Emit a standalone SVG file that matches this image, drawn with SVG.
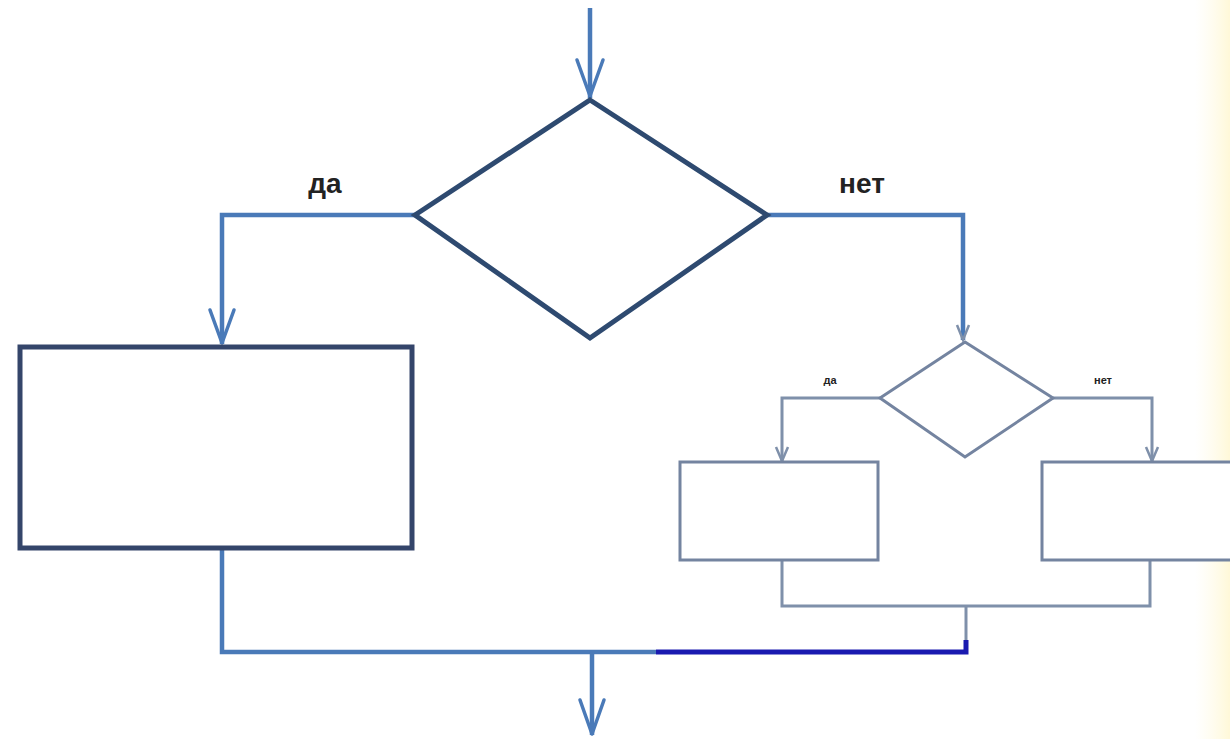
<svg xmlns="http://www.w3.org/2000/svg" width="1230" height="739" viewBox="0 0 1230 739">
<defs>
<linearGradient id="yel" x1="0" y1="0" x2="1" y2="0">
<stop offset="0" stop-color="#fffbe6" stop-opacity="0"/>
<stop offset="1" stop-color="#fff8d8"/>
</linearGradient>
<style>
.big{fill:#ffffff;stroke:#2e4a70;stroke-width:5;stroke-linejoin:miter}
.bigr{fill:#ffffff;stroke:#34456a;stroke-width:5}
.small{fill:#ffffff;stroke:#7484a0;stroke-width:3}
.c{fill:none;stroke:#4a7ab8;stroke-width:4.5}
.cs{fill:none;stroke:#7f90aa;stroke-width:3}
.ah{fill:none;stroke:#4a7ab8;stroke-width:3.5;stroke-linecap:round;stroke-linejoin:round}
.ahs{fill:none;stroke:#7f90aa;stroke-width:2.5}
.lbl{font-family:"Liberation Sans",Arial,sans-serif;font-weight:bold;fill:#222;}
</style>
</defs>
<rect width="1230" height="739" fill="#ffffff"/>
<rect x="1195" y="0" width="35" height="739" fill="url(#yel)"/>
<g id="connectors">
<path class="c" d="M590 8 V98"/>
<path class="ah" d="M577 60 L590 96 L603 60"/>
<path class="c" d="M415 215 H222 V344"/>
<path class="ah" d="M210 310 L222 343 L234 310"/>
<path class="c" d="M767 215 H963 V340"/>
<path class="ahs" d="M957 325 L963 340 L969 325"/>
<path class="cs" d="M880 398 H782 V461"/>
<path class="ahs" d="M776 447 L782 461 L788 447"/>
<path class="cs" d="M1053 398 H1152 V461"/>
<path class="ahs" d="M1146 447 L1152 461 L1158 447"/>
<path class="cs" d="M782 560 V606 H1150 V560"/>
<path class="cs" d="M966 606 V648"/>
<path class="c" d="M222 548 V652 H656"/>
<path fill="none" stroke="#1a1ab0" stroke-width="5" d="M656 652 H966 V640"/>
<path class="c" d="M592 652 V735"/>
<path class="ah" d="M580 700 L592 734 L604 700"/>
</g>
<g id="decision1">
<polygon class="big" points="590,100 767,215 590,338 415,215"/>
</g>
<g id="process1">
<rect class="bigr" x="20" y="347" width="392" height="201"/>
</g>
<g id="decision2">
<polygon class="small" points="965,342 1053,398 965,457 880,398"/>
</g>
<g id="process2">
<rect class="small" x="680" y="462" width="198" height="98"/>
</g>
<g id="process3">
<rect class="small" x="1042" y="462" width="200" height="98"/>
</g>
<g id="labels">
<text class="lbl" x="325" y="193" font-size="28" text-anchor="middle">да</text>
<text class="lbl" x="862" y="193" font-size="28" text-anchor="middle">нет</text>
<text class="lbl" x="830" y="384" font-size="11" text-anchor="middle">да</text>
<text class="lbl" x="1103" y="384" font-size="11" text-anchor="middle">нет</text>
</g>
</svg>
